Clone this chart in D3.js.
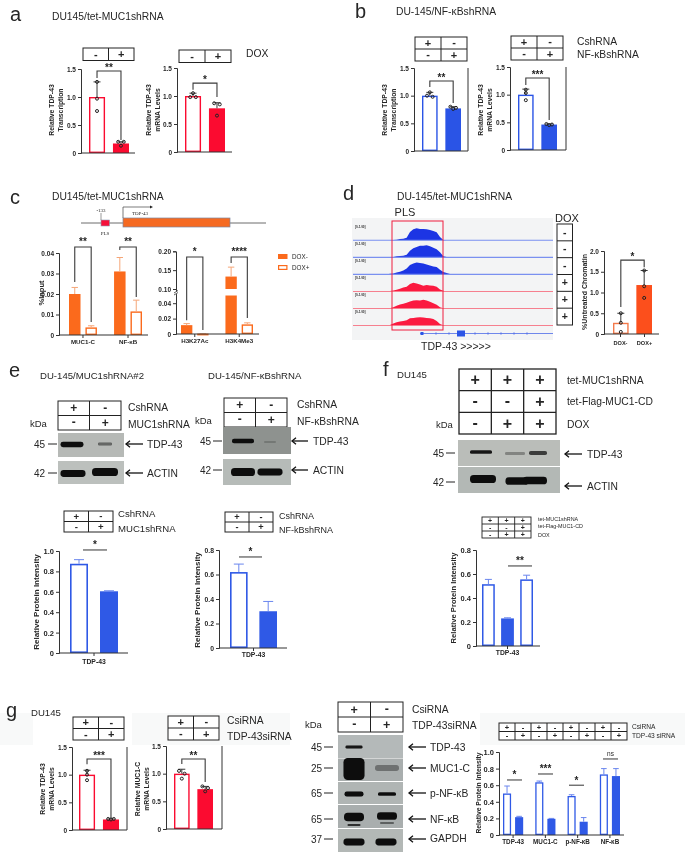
<!DOCTYPE html>
<html><head><meta charset="utf-8">
<script src="https://cdn.jsdelivr.net/npm/d3@7"></script>
<style>html,body{margin:0;padding:0;background:#fff}svg{display:block;filter:blur(.3px)}text{font-family:"Liberation Sans",Arial,sans-serif;fill:#262626}</style>
</head><body><svg id="fig" width="685" height="852"></svg>
<script>
// ---------- DATA ----------
const aLeftValues=[1.0,0.17], aLeftErrors=[1.27,0.2], aLeftPoints=[[1.27,0.97,0.75],[0.2,0.2,0.13]];
const aRightValues=[1.0,0.78], aRightErrors=[1.05,0.88], aRightPoints=[[1.05,0.98,0.98],[0.87,0.85,0.65]];
const bLeftValues=[1.0,0.77], bLeftErrors=[1.06,0.8], bLeftPoints=[[1.06,1.0,0.98],[0.8,0.78,0.76]];
const bRightValues=[1.0,0.46], bRightErrors=[1.1,0.47], bRightPoints=[[1.09,1.03,0.9],[0.47,0.46,0.45]];
const cLeftCategories=["MUC1-C","NF-κB"], cLeftValues=[0.02,0.0037,0.031,0.0115], cLeftErrors=[0.0232,0.0045,0.0378,0.017];
const cRightCategories=["H3K27Ac","H3K4Me3"], cRightValues=[0.0115,0.0005,0.133,0.0125], cRightErrors=[0.0135,0.0005,0.158,0.0145];
const dCategories=["DOX-","DOX+"], dValues=[0.27,1.18], dErrors=[0.5,1.53], dPoints=[[0.5,0.27,0.05],[1.53,1.15,0.87]];
const e1Values=[0.875,0.605], e1Errors=[0.915,0.61];
const e2Values=[0.62,0.30], e2Errors=[0.685,0.38];
const fValues=[0.515,0.23,0.555], fErrors=[0.555,0.235,0.59];
const g1Values=[1.0,0.19], g1Errors=[1.08,0.2], g1Points=[[1.07,1.0,0.9],[0.2,0.2,0.19]];
const g2Values=[1.0,0.72], g2Errors=[1.08,0.77], g2Points=[[1.05,1.0,0.91],[0.77,0.74,0.68]];
const g3Categories=["TDP-43","MUC1-C","p-NF-κB","NF-κB"], g3Values=[0.5,0.215,0.635,0.195,0.47,0.16,0.73,0.71], g3Errors=[0.59,0.225,0.65,0.2,0.485,0.21,0.8,0.8];
const tdpCategory=["TDP-43"];
const tick15=[0,0.5,1,1.5], tick20=[0,0.5,1,1.5,2], tick10=[0,0.2,0.4,0.6,0.8,1], tick08=[0,0.2,0.4,0.6,0.8];
const tickC1=[0,0.01,0.02,0.03,0.04], tickC2=[0,0.02,0.04,0.1,0.15,0.2];
// ChIP-like tracks: signal per genomic bin
const trackSignal=[
 [0,0,0,1,2,4,5,8,25,33,36,34,34,33,31,28,24,10,1,0,0],
 [0,0,0,1,3,4,5,8,20,27,31,35,35,36,33,29,24,15,3,1,0],
 [0,0,2,3,6,8,12,18,28,33,36,34,33,30,27,24,22,14,7,4,1],
 [0,0,1,3,5,8,12,14,22,26,24,21,17,19,18,17,14,6,2,0,0],
 [0,0,1,4,8,12,14,17,21,24,25,24,26,24,20,16,11,4,1,0,0],
 [0,1,2,6,10,12,14,16,22,23,24,25,24,23,22,20,14,5,1,0,0]];
const trackDox=["-","-","-","+","+","+"];
// ---------- STYLE ----------
const RED="#fb0b30",BLUE="#2a54e6",ORANGE="#fb6a1c",ORED="#fc4f1c",DARK="#3a3a3a";
const svg=d3.select("#fig");
const defs=svg.append("defs");
defs.append("filter").attr("id","soft").attr("x","-30%").attr("y","-60%").attr("width","160%").attr("height","220%")
 .append("feGaussianBlur").attr("stdDeviation",0.7);
function T(x,y,s,o={}){const e=svg.append("text").attr("x",x).attr("y",y).attr("dy",o.dy==null?"0.35em":o.dy).text(s)
 .attr("font-size",o.size||10.3).attr("text-anchor",o.anchor||"start").attr("font-weight",o.weight||"normal");
 if(o.rot!=null)e.attr("transform",`rotate(${o.rot} ${x} ${y})`);if(o.family)e.style("font-family",o.family);return e;}
function L(g,x1,y1,x2,y2,c,w){return g.append("line").attr("x1",x1).attr("y1",y1).attr("x2",x2).attr("y2",y2).attr("stroke",c||DARK).attr("stroke-width",w||1);}

function chart(c){
 const g=svg.append("g");
 const y=(c.scale||d3.scaleLinear().domain([0,c.max])).copy().range(c.range||[c.y0,c.yTop]);
 const nG=c.groups||1, gs=c.groupSize||c.values.length;
 const gb=d3.scaleBand().domain(d3.range(nG)).range(c.bars).paddingInner(c.gp==null?0:c.gp);
 const sb=d3.scaleBand().domain(d3.range(gs)).range([0,gb.bandwidth()]).paddingInner(c.sp==null?0.33:c.sp);
 const bx=i=>gb(Math.floor(i/gs))+sb(i%gs), bw=sb.bandwidth(), cx=i=>bx(i)+bw/2;
 const sw=c.sw||1.4, fill=i=>c.filled[i%c.filled.length];
 const bars=g.selectAll("rect.bar").data(c.values).join("rect").attr("class","bar");
 // error bars behind the bars
 g.selectAll("line.err").data(c.errors).join("line").attr("class","err").attr("x1",(d,i)=>cx(i)).attr("x2",(d,i)=>cx(i))
  .attr("y1",(d,i)=>y(c.values[i])).attr("y2",d=>y(d)).attr("stroke",c.errColor||DARK).attr("stroke-width",c.errW||1);
 g.selectAll("line.cap").data(c.errors).join("line").attr("class","cap").attr("x1",(d,i)=>cx(i)-(c.cap||3.5)).attr("x2",(d,i)=>cx(i)+(c.cap||3.5))
  .attr("y1",d=>y(d)).attr("y2",d=>y(d)).attr("stroke",c.errColor||DARK).attr("stroke-width",c.errW||1);
 bars.attr("x",(d,i)=>fill(i)?bx(i):bx(i)+sw/2).attr("width",(d,i)=>fill(i)?bw:bw-sw)
  .attr("y",(d,i)=>fill(i)?y(d):y(d)+sw/2).attr("height",(d,i)=>Math.max(0.4,y(0)-y(d)-(fill(i)?0:sw)))
  .attr("fill",(d,i)=>fill(i)?c.color:"#fff").attr("stroke",(d,i)=>fill(i)?"none":(c.strokeColor||c.color)).attr("stroke-width",sw);
 if(c.gapFrom!=null){ // broken bars
  g.selectAll("rect.gap").data(c.values.filter(v=>v>c.gapTo)).join("rect").attr("class","gap")
   .attr("x",d=>bx(c.values.indexOf(d))-1).attr("width",bw+2).attr("y",y(c.gapTo)).attr("height",y(c.gapFrom)-y(c.gapTo)).attr("fill","#fff");
 }
 // points: near-equal values are dodged sideways
 if(c.points){c.points.forEach((arr,i)=>{
   const placed=[];
   arr.forEach(v=>{const py=y(v);const near=placed.filter(p=>Math.abs(p.py-py)<3.2);
     if(near.length===1&&near[0].off===0){near[0].off=-2.8;}
     placed.push({py,off:near.length===1?2.8:0});});
   g.selectAll(null).data(placed).join("circle").attr("cx",d=>cx(i)+d.off).attr("cy",d=>d.py).attr("r",1.5)
    .attr("fill","none").attr("stroke","#222").attr("stroke-width",1);
 });}
 // axes
 const ya=d3.axisLeft(y).tickValues(c.ticks).tickSize(3).tickPadding(2).tickFormat(c.fmt||(d=>d===0?"0":d3.format(".1f")(d)));
 const ag=g.append("g").attr("transform",`translate(${c.ax},0)`).call(ya);
 ag.selectAll("text").attr("font-size",c.tickSize||6.5).attr("font-weight","bold");
 ag.selectAll("line,path").attr("stroke","#333").attr("stroke-width",1);
 L(g,c.ax,y(0),c.baseEnd,y(0),"#333",1.1);
 if(c.rightLine)L(g,c.baseEnd,y.range()[0],c.baseEnd,c.yTop,"#333",1);
 if(c.categories){
  const xb=d3.scaleBand().domain(c.categories).range(c.bars).paddingInner(c.gp==null?0:c.gp);
  const xa=d3.axisBottom(xb).tickSize(3).tickPadding(c.catPad||1.5);
  const xg=g.append("g").attr("transform",`translate(0,${y(0)})`).call(xa);
  xg.select(".domain").remove();xg.selectAll("line").attr("stroke","#333");
  xg.selectAll("text").attr("font-size",c.catSize||6.2).attr("font-weight","bold");
 }
 if(c.ylabel)c.ylabel.forEach((s,k)=>T(c.ylabelX[k],c.ylabelY,s,{size:c.ylabelSize||6.8,weight:"bold",anchor:"middle",rot:-90}));
 // significance brackets: [barA, barB, top, dropA, dropB, stars]
 (c.brackets||[]).forEach(b=>{
  const xa=cx(b[0]),xb=cx(b[1]);
  g.append("path").attr("d",`M${xa},${y(b[3])}V${y(b[2])}H${xb}V${y(b[4])}`).attr("fill","none").attr("stroke","#3a3a3a").attr("stroke-width",1.1);
  T((xa+xb)/2,y(b[2])-(c.starGap||0),b[5],{size:10,weight:"bold",anchor:"middle",dy:0});
 });
 // significance lines: [x1, x2, value, stars]
 (c.sig||[]).forEach(b=>{
  L(g,b[0],y(b[2]),b[1],y(b[2]),"#333",1);
  T((b[0]+b[1])/2,y(b[2])-1.5,b[3],{size:b[3]==="ns"?6.5:10,weight:b[3]==="ns"?"normal":"bold",anchor:"middle",dy:b[3]==="ns"?-1:0});
 });
 return {y,cx};
}
function table(x,y,w,h,rows,size,sw){
 const g=svg.append("g"),nr=rows.length,nc=rows[0].length,cw=w/nc,rh=h/nr;
 g.append("rect").attr("x",x).attr("y",y).attr("width",w).attr("height",h).attr("fill","#fff").attr("stroke","#222").attr("stroke-width",sw||1);
 d3.range(1,nc).forEach(i=>L(g,x+i*cw,y,x+i*cw,y+h,"#222",sw||1));
 d3.range(1,nr).forEach(i=>L(g,x,y+i*rh,x+w,y+i*rh,"#222",sw||1));
 rows.forEach((r,ri)=>r.forEach((s,ci)=>T(x+(ci+.5)*cw,y+(ri+.5)*rh,s,{size,weight:"bold",anchor:"middle",dy:s==="-"?"0.3em":"0.34em"})));
}
function arrow(tipX,tailX,y){const g=svg.append("g");L(g,tipX,y,tailX,y,"#111",1.3);
 g.append("path").attr("d",`M${tipX+4},${y-3.2}L${tipX},${y}L${tipX+4},${y+3.2}`).attr("fill","none").attr("stroke","#111").attr("stroke-width",1.3);}
function marker(textX,t0,t1,y,s){T(textX,y,s,{size:10,anchor:"end"});L(svg,t0,y,t1,y,"#222",1);}
function blot(x,y,w,h,bg,bands){svg.append("rect").attr("x",x).attr("y",y).attr("width",w).attr("height",h).attr("fill",bg);
 svg.append("g").attr("filter","url(#soft)").selectAll("rect").data(bands).join("rect")
  .attr("x",d=>d[0]-d[2]/2).attr("y",d=>d[1]-d[3]/2).attr("width",d=>d[2]).attr("height",d=>d[3]).attr("rx",d=>Math.min(d[2],d[3])*(d[3]>12?0.2:0.45)).attr("fill","#0d0d0d").attr("opacity",d=>d[4]==null?1:d[4]);}

// ---------- PANEL LETTERS & TITLES ----------
[["a",10,14],["b",355,10.5],["c",10,197],["d",343,193],["e",9,370],["f",383,369],["g",6,710]].forEach(d=>T(d[1],d[2],d[0],{size:20}));
T(52,16,"DU145/tet-MUC1shRNA");T(396,11,"DU-145/NF-κBshRNA");T(52,196,"DU145/tet-MUC1shRNA");T(397,196,"DU-145/tet-MUC1shRNA");
T(40,376,"DU-145/MUC1shRNA#2",{size:9.6});T(208,376,"DU-145/NF-κBshRNA",{size:9.6});T(397,375,"DU145",{size:9.6});T(31,713,"DU145",{size:9.6});

// ---------- a ----------
table(83,48,51,12.5,[["-","+"]],11);table(179,50,52,12.5,[["-","+"]],11);T(246,53,"DOX");
chart({ax:81,y0:153,yTop:69,max:1.5,ticks:tick15,baseEnd:135,bars:[89,129],values:aLeftValues,errors:aLeftErrors,points:aLeftPoints,filled:[false,true],color:RED,
 ylabel:["Relative TDP-43","Transcription"],ylabelX:[52,61],ylabelY:110,brackets:[[0,1,1.464,1.34,0.23,"**"]]});
chart({ax:177,y0:152,yTop:68,max:1.5,ticks:tick15,baseEnd:232,bars:[185,225],values:aRightValues,errors:aRightErrors,points:aRightPoints,filled:[false,true],color:RED,
 ylabel:["Relative TDP-43","mRNA Levels"],ylabelX:[149,158],ylabelY:110,brackets:[[0,1,1.23,1.11,0.98,"*"]]});
// ---------- b ----------
table(415,37,52,24,[["+","-"],["-","+"]],11);table(511,36,52,24,[["+","-"],["-","+"]],11);T(577,41,"CshRNA");T(577,54,"NF-κBshRNA");
chart({ax:414,y0:151,yTop:68,max:1.5,ticks:tick15,baseEnd:468,rightLine:true,bars:[422,461],values:bLeftValues,errors:bLeftErrors,points:bLeftPoints,filled:[false,true],color:BLUE,
 ylabel:["Relative TDP-43","Transcription"],ylabelX:[385,394],ylabelY:110,brackets:[[0,1,1.266,1.157,0.868,"**"]]});
chart({ax:510,y0:150,yTop:67,max:1.5,ticks:tick15,baseEnd:566,rightLine:true,bars:[518,557],values:bRightValues,errors:bRightErrors,points:bRightPoints,filled:[false,true],color:BLUE,
 ylabel:["Relative TDP-43","mRNA Levels"],ylabelX:[481,490],ylabelY:110,brackets:[[0,1,1.30,1.175,0.54,"***"]]});
// ---------- c ----------
{const g=svg.append("g");L(g,81,223,266,223,"#6d6d6d",1);
 g.append("rect").attr("x",101).attr("y",220).attr("width",8.5).attr("height",6).attr("fill","#f5103a").attr("stroke","#8f9bb5").attr("stroke-width",.6);
 g.append("rect").attr("x",123).attr("y",218).attr("width",107).attr("height",9).attr("fill","#f56a22").attr("stroke","#7d86a0").attr("stroke-width",.7);
 g.append("path").attr("d","M123,218V207H150").attr("fill","none").attr("stroke","#444").attr("stroke-width",.7);
 g.append("path").attr("d","M150,205.5L153,207L150,208.5Z").attr("fill","#222");
 L(g,101,213,101,220,"#555",.6);
 T(101,210.5,"-133",{size:5,anchor:"middle",family:"Liberation Serif"});T(140,213,"TDP-43",{size:5,anchor:"middle",family:"Liberation Serif"});T(105,233,"PLS",{size:5,anchor:"middle",family:"Liberation Serif"});}
chart({ax:59,y0:335,yTop:253,max:0.04,ticks:tickC1,fmt:d=>d===0?"0":d3.format(".2f")(d),baseEnd:148,bars:[69,142],groups:2,groupSize:2,gp:0.38,sp:0.3,values:cLeftValues,errors:cLeftErrors,
 filled:[true,false],color:ORANGE,errColor:"#f5a678",cap:3.2,categories:cLeftCategories,starGap:2,
 brackets:[[0,1,0.0429,0.0259,0.0063,"**"],[2,3,0.0429,0.0415,0.0185,"**"]]});
T(41,293,"%Input",{size:7.5,anchor:"middle",rot:-90,weight:"bold"});
chart({ax:176,y0:334,yTop:251,range:[334,295.5,289,251.3],scale:d3.scaleLinear().domain([0,0.05,0.1,0.2]),ticks:tickC2,fmt:d=>d===0?"0":d3.format(".2f")(d),baseEnd:259,bars:[181,253],groups:2,groupSize:2,gp:0.38,sp:0.3,
 values:cRightValues,errors:cRightErrors,filled:[true,false],color:ORANGE,errColor:"#f5a678",cap:3.2,gapFrom:0.05,gapTo:0.1,categories:cRightCategories,starGap:2,
 brackets:[[0,1,0.185,0.018,0.0052,"*"],[2,3,0.185,0.169,0.0208,"****"]]});
svg.append("rect").attr("x",173).attr("y",291.5).attr("width",6).attr("height",2.6).attr("fill","#fff");
L(svg,174,293,178,290.5,"#333",.8);L(svg,174,295,178,292.5,"#333",.8);
svg.append("rect").attr("x",278).attr("y",254).attr("width",9.5).attr("height",5).attr("fill",ORANGE);
svg.append("rect").attr("x",278.6).attr("y",265.6).attr("width",8.3).attr("height",3.8).attr("fill","#fff").attr("stroke",ORANGE).attr("stroke-width",1.2);
T(292,256.5,"DOX-",{size:6.3});T(292,267.5,"DOX+",{size:6.3});
// ---------- d ----------
{const gd=svg.append("g");
 gd.append("rect").attr("x",352).attr("y",218).attr("width",201).attr("height",122).attr("fill","#f3f4f5");
 const tx=d3.scaleLinear().domain([0,20]).range([383.3,450]);
 const ty=d3.scaleLinear().domain([0,36]).range([0,12]);
 const base=i=>240.3+i*17.05;
 trackSignal.forEach((s,i)=>{const col=i<3?"#1c35e4":"#fb1a40";
  gd.append("path").datum(s).attr("fill",col).attr("d",d3.area().x((d,k)=>tx(k)).y0(base(i)).y1(d=>base(i)-ty(d)));
  L(gd,353,base(i),553,base(i),i<3?"#7a90f0":"#f6808f",1.1);
  T(355,base(i)-13.8,"[0-1.00]",{size:3,weight:"bold"});
 });
 gd.append("rect").attr("x",392).attr("y",221).attr("width",51).attr("height",109).attr("fill","none").attr("stroke","#ef1c3f").attr("stroke-width",1);
 L(gd,420,333.5,553,333.5,"#3557e6",.7);
 gd.append("rect").attr("x",420.5).attr("y",332).attr("width",3).attr("height",3).attr("fill",BLUE);
 gd.append("rect").attr("x",457).attr("y",330.5).attr("width",8).attr("height",6).attr("fill",BLUE);
 d3.range(0,8).forEach(i=>L(gd,436+i*13,332,436+i*13,335,"#3557e6",.5));
}
T(405,212,"PLS",{size:11,anchor:"middle"});T(567,218,"DOX",{size:11,anchor:"middle"});T(456,346,"TDP-43 >>>>>",{size:10.5,anchor:"middle"});
table(557,224,15.5,101,trackDox.map(d=>[d]),10.5,1);
chart({ax:604,y0:334,yTop:251,max:2,ticks:tick20,baseEnd:659,bars:[613,652],values:dValues,errors:dErrors,points:dPoints,filled:[false,true],color:ORED,strokeColor:"#f4794a",
 categories:null,ylabel:["%Untreated Chromatin"],ylabelX:[585],ylabelY:292,ylabelSize:7,brackets:[[0,1,1.78,0.65,1.61,"*"]]});
dCategories.forEach((s,i)=>{L(svg,620.5+i*24,334,620.5+i*24,337,"#333",1);T(620.5+i*24,343,s,{size:5.6,weight:"bold",anchor:"middle"});});
// ---------- e ----------
table(58,401,63,29,[["+","-"],["-","+"]],12);T(128,407,"CshRNA");T(128,424,"MUC1shRNA");T(30,424,"kDa",{size:9.5});
blot(58,433,66,24,"#b6b9b6",[[72,444.5,23,5.5],[105,444,14,3,.5]]);
blot(58,461,66,23,"#bcc0bd",[[73,473.5,25,7],[105,472,26,8]]);
marker(45,48,57,444,"45");marker(45,48,57,473,"42");arrow(126,143,444);arrow(126,143,473);T(147,444,"TDP-43");T(147,473,"ACTIN");
table(224,398,63,29,[["+","-"],["-","+"]],12);T(297,404,"CshRNA");T(297,421,"NF-κBshRNA");T(195,421,"kDa",{size:9.5});
blot(223,427,68,27,"#8e928f",[[243,441,22,4.5],[270,442,12,2,.18]]);
blot(223,459,68,26,"#b6bbb8",[[243,472,24,8],[270,472,25,7]]);
marker(211,213,222,441,"45");marker(211,213,222,470,"42");arrow(292,308,441);arrow(292,308,470);T(313,441,"TDP-43");T(313,470,"ACTIN");
table(64,511,49,21,[["+","-"],["-","+"]],9.6);T(118,514,"CshRNA",{size:9.6});T(118,529,"MUC1shRNA",{size:9.6});
table(225,512,48,20,[["+","-"],["-","+"]],9.2);T(279,516,"CshRNA",{size:9});T(279,530,"NF-kBshRNA",{size:9});
chart({ax:59,y0:653,yTop:551,max:1,ticks:tick10,tickSize:7.5,baseEnd:128,bars:[70,118],gp:0,sp:0.4,groups:1,values:e1Values,errors:e1Errors,filled:[false,true],color:"#2f59e6",errColor:"#6a86ee",cap:5,sw:1.6,
 categories:tdpCategory,catSize:6.8,catPad:3,ylabel:["Relative Protein Intensity"],ylabelX:[36],ylabelY:602,ylabelSize:8,sig:[[83,107,1.01,"*"]]});
chart({ax:219,y0:648,yTop:550,max:0.8,ticks:tick08,tickSize:6.8,baseEnd:287,bars:[230,277],gp:0,sp:0.4,groups:1,values:e2Values,errors:e2Errors,filled:[false,true],color:"#2f59e6",errColor:"#6a86ee",cap:5,sw:1.6,
 categories:tdpCategory,catSize:6.8,ylabel:["Relative Protein Intensity"],ylabelX:[197],ylabelY:600,ylabelSize:8,sig:[[239,262,0.743,"*"]]});
// ---------- f ----------
table(459,369,97,65,[["+","+","+"],["-","-","+"],["-","+","+"]],16,1.3);
T(567,380,"tet-MUC1shRNA");T(567,401,"tet-Flag-MUC1-CD");T(567,424,"DOX");T(436,425,"kDa",{size:9.5});
blot(458,440,102,26,"#babdb9",[[481,452,22,3.5,.95],[515,453.5,20,3,.3],[538,453,18,4,.75]]);
blot(458,467,102,26,"#b3b8b5",[[483,479,26,8],[517,481,23,7.5],[535,480.5,24,7.5]]);
marker(444,446,455,453,"45");marker(444,446,455,482,"42");arrow(565,582,454);arrow(565,582,486);T(587,454,"TDP-43");T(587,486,"ACTIN");
table(482,517,49,21,[["+","+","+"],["-","-","+"],["-","+","+"]],7,.9);
T(538,519,"tet-MUC1shRNA",{size:5.4});T(538,526.5,"tet-Flag-MUC1-CD",{size:5.4});T(538,535,"DOX",{size:5.4});
chart({ax:476,y0:646,yTop:550,max:0.8,ticks:tick08,tickSize:7.5,baseEnd:540,bars:[482,533],gp:0,sp:0.33,groups:1,values:fValues,errors:fErrors,filled:[false,true,false],color:"#2f59e6",errColor:"#6a86ee",cap:3.5,sw:1.5,
 categories:tdpCategory,catSize:6.8,ylabel:["Relative Protein Intensity"],ylabelX:[453],ylabelY:598,ylabelSize:7.6,sig:[[508,532,0.667,"**"]]});
// ---------- g ----------
[[0,33],[132,158],[480,205]].forEach(d=>svg.insert("rect",":first-child").attr("x",d[0]).attr("y",713).attr("width",d[1]).attr("height",32).attr("fill","#f8f9f9"));
table(73,717,51,23,[["+","-"],["-","+"]],11);table(168,716,51,24,[["+","-"],["-","+"]],11);
T(227,720,"CsiRNA");T(227,736,"TDP-43siRNA");
chart({ax:72,y0:830,yTop:747,max:1.5,ticks:tick15,baseEnd:127,rightLine:true,bars:[79,119],values:g1Values,errors:g1Errors,points:g1Points,filled:[false,true],color:RED,
 ylabel:["Relative TDP-43","mRNA Levels"],ylabelX:[43,52],ylabelY:789,brackets:[[0,1,1.284,1.19,0.217,"***"]]});
chart({ax:166,y0:829,yTop:746,max:1.5,ticks:tick15,baseEnd:222,rightLine:true,bars:[174,213],values:g2Values,errors:g2Errors,points:g2Points,filled:[false,true],color:RED,
 ylabel:["Relative MUC1-C","mRNA Levels"],ylabelX:[138,147],ylabelY:789,brackets:[[0,1,1.266,1.175,0.85,"**"]]});
table(338,702,65,30,[["+","-"],["-","+"]],12.5);T(412,709,"CsiRNA");T(412,725,"TDP-43siRNA");T(305,725,"kDa",{size:9.5});
blot(338,735,65,23,"#b4b9b9",[[354,747,17,3.2,.95]]);
blot(338,758.5,65,22.5,"#a9aeae",[[354,769,21,22],[387,768,24,6,.35]]);
blot(338,782,65,22,"#b0b5b4",[[354,794,19,5],[387,794,18,3.6]]);
blot(338,805,65,23,"#a9aeae",[[354,817,20,8.5],[354,825,13,2,.8],[387,816,20,7.5],[387,823,14,1.6,.6]]);
blot(338,829,65,23,"#b3b8b6",[[354,842,21,7],[386,842,21,7]]);
[[747,"45"],[768,"25"],[793,"65"],[819,"65"],[839,"37"]].forEach(d=>{marker(322,324,333,d[0],d[1]);arrow(409,426,d[0]);});
[[747,"TDP-43"],[768,"MUC1-C"],[793,"p-NF-κB"],[819,"NF-κB"],[838,"GAPDH"]].forEach(d=>T(430,d[0],d[1]));
table(499,723,128,17,[["+","-","+","-","+","-","+","-"],["-","+","-","+","-","+","-","+"]],7.6);
T(632,727,"CsiRNA",{size:6.6});T(632,736,"TDP-43 siRNA",{size:6.6});
chart({ax:499,y0:835,yTop:752,max:1,ticks:tick10,tickSize:7.5,baseEnd:624,bars:[503,620],groups:4,groupSize:2,gp:0.375,sp:0.33,values:g3Values,errors:g3Errors,filled:[false,true],color:"#2f59e6",errColor:"#6a86ee",cap:2.8,sw:1.3,
 categories:g3Categories,catSize:6.3,ylabel:["Relative Protein Intensity"],ylabelX:[479],ylabelY:793,ylabelSize:6.8,
 sig:[[507,522,0.663,"*"],[538,553,0.735,"***"],[569,584,0.60,"*"],[603,618,0.916,"ns"]]});
</script></body></html>
